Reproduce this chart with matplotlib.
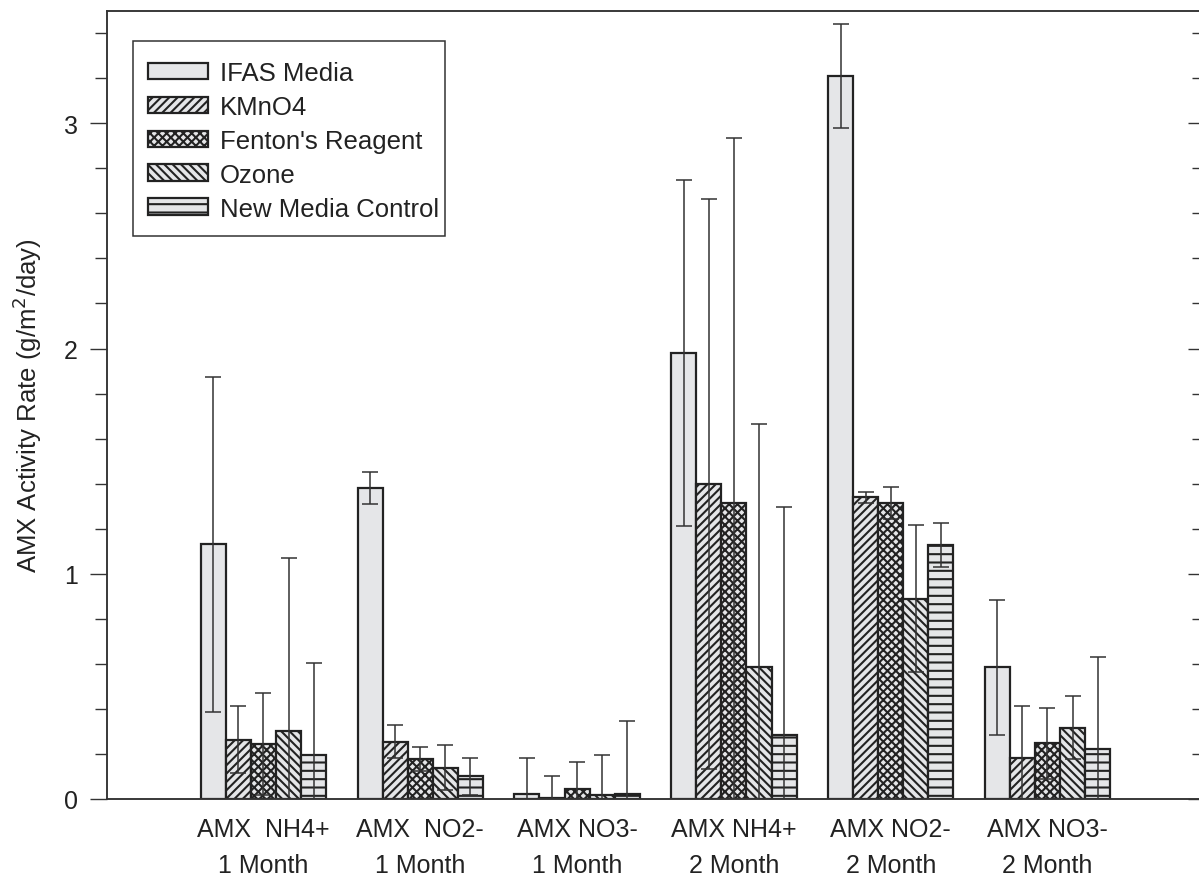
import numpy as np
import matplotlib
matplotlib.use("Agg")
import matplotlib.pyplot as plt
from matplotlib.patches import Rectangle

plt.rcParams['font.family'] = ['Liberation Sans', 'DejaVu Sans']
plt.rcParams['hatch.linewidth'] = 1.5

# Group labels along the x axis
categories = ["AMX  NH4+\n1 Month", "AMX  NO2-\n1 Month", "AMX NO3-\n1 Month",
              "AMX NH4+\n2 Month", "AMX NO2-\n2 Month", "AMX NO3-\n2 Month"]

series_names = ["IFAS Media", "KMnO4", "Fenton's Reagent", "Ozone", "New Media Control"]

# Mean activity rates (g/m2/day) and standard deviations per treatment
ifas = [1.13, 1.38, 0.02, 1.98, 3.21, 0.585]
ifas_err = [0.745, 0.072, 0.16, 0.77, 0.233, 0.30]
kmno4 = [0.264, 0.255, 0.003, 1.40, 1.34, 0.184]
kmno4_err = [0.15, 0.073, 0.097, 1.265, 0.025, 0.23]
fenton = [0.244, 0.179, 0.043, 1.316, 1.316, 0.247]
fenton_err = [0.226, 0.054, 0.12, 1.62, 0.071, 0.159]
ozone = [0.304, 0.139, 0.016, 0.585, 0.889, 0.317]
ozone_err = [0.767, 0.10, 0.18, 1.079, 0.327, 0.14]
control = [0.196, 0.101, 0.022, 0.286, 1.129, 0.222]
control_err = [0.41, 0.083, 0.326, 1.009, 0.098, 0.41]

values = [ifas, kmno4, fenton, ozone, control]
errors = [ifas_err, kmno4_err, fenton_err, ozone_err, control_err]
hatches = [None, '////', 'xxxx', '\\\\\\\\', '--']

fig = plt.figure(figsize=(11.99, 8.79), dpi=100)
W, H = 1199, 879
ax_left, ax_right, ax_top, ax_bottom = 106.7, 1204.3, 11.7, 800.0
ax = fig.add_axes([ax_left / W, 1 - ax_bottom / H,
                   (ax_right - ax_left) / W, (ax_bottom - ax_top) / H])


def px_to_axes(px, py):
    """Convert figure pixel coordinates (origin top-left) to axes fractions."""
    return ((px - ax_left) / (ax_right - ax_left),
            1 - (py - ax_top) / (ax_bottom - ax_top))


face = '#e5e6e8'
edge = '#222222'
width = 0.16
x = np.arange(len(categories))

for i, (vals, errs, name, h) in enumerate(zip(values, errors, series_names, hatches)):
    pos = x + (i - 2) * width
    ax.bar(pos, vals, width=width, color=face, edgecolor=edge, linewidth=1.6,
           hatch=h, label=name, zorder=2)
    ax.errorbar(pos, vals, yerr=errs, fmt='none', ecolor='#333333',
                elinewidth=1.1, capsize=5.8, capthick=1.1, zorder=3)

ax.set_xlim(-1, 6)
ax.set_ylim(0, 3.5)

ax.set_xticks(x)
ax.set_xticklabels(categories, fontsize=18, linespacing=1.62)
ax.tick_params(axis='x', length=0, pad=13)

ax.set_yticks([0, 1, 2, 3])
ax.set_yticks(np.arange(0.2, 3.5, 0.2), minor=True)
ax.tick_params(axis='y', which='major', direction='out', length=12, width=1.0,
               labelsize=18, pad=9, color='#333333')
ax.tick_params(axis='y', which='minor', direction='out', length=8.6, width=1.0,
               color='#333333')

# Inward ticks on the right-hand side
ax2 = ax.twinx()
ax2.set_ylim(ax.get_ylim())
ax2.set_yticks([0, 1, 2, 3])
ax2.set_yticks(np.arange(0.2, 3.5, 0.2), minor=True)
ax2.tick_params(axis='y', which='major', direction='in', length=11.5, width=1.0,
                labelright=False, color='#333333')
ax2.tick_params(axis='y', which='minor', direction='in', length=8.6, width=1.0,
                color='#333333')

for a in (ax, ax2):
    for sp in a.spines.values():
        sp.set_linewidth(1.1)
        sp.set_color('#333333')

ax.set_ylabel('AMX Activity Rate (g/m$^2$/day)', fontsize=18.5, labelpad=14,
              color='#222222')

# Legend entries without their own frame; the box is drawn separately
leg = ax.legend(loc='upper left', bbox_to_anchor=px_to_axes(148, 62),
                borderaxespad=0, borderpad=0, fontsize=18.5, frameon=False,
                handlelength=2.35, handleheight=0.6, handletextpad=0.45,
                labelspacing=0.385)
leg.set_zorder(6)

bx0, by1 = px_to_axes(133, 41.7)
bx1, by0 = px_to_axes(445, 236.7)
ax.add_patch(Rectangle((bx0, by0), bx1 - bx0, by1 - by0, transform=ax.transAxes,
                       facecolor='white', edgecolor='#333333', linewidth=1.1,
                       zorder=5))

for t in ax.get_xticklabels() + ax.get_yticklabels() + leg.get_texts():
    t.set_color('#222222')

fig.savefig('out.png', dpi=100)
